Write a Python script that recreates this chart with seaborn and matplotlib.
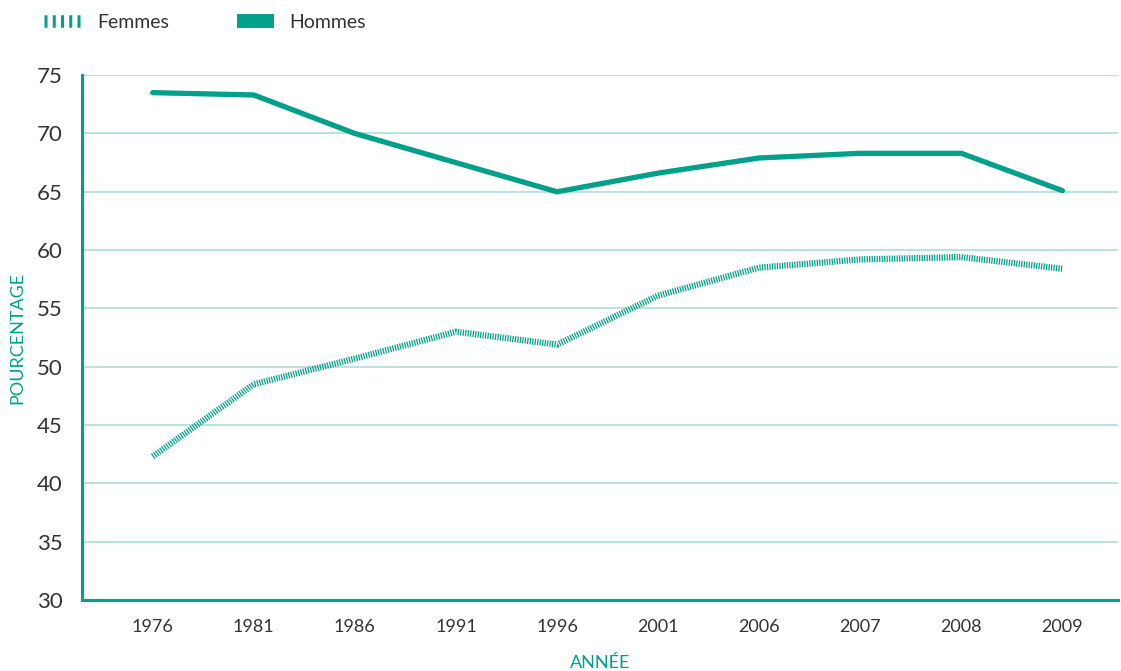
import pandas as pd
import matplotlib
matplotlib.use("Agg")
import matplotlib.pyplot as plt
import seaborn as sns
from matplotlib.lines import Line2D

# Data
years = ["1976", "1981", "1986", "1991", "1996", "2001", "2006", "2007", "2008", "2009"]
hommes = [73.5, 73.3, 70.0, 67.5, 65.0, 66.6, 67.9, 68.3, 68.3, 65.1]
femmes = [42.3, 48.5, 50.7, 53.0, 51.9, 56.1, 58.5, 59.2, 59.4, 58.4]
y_ticks = [30, 35, 40, 45, 50, 55, 60, 65, 70, 75]

teal = "#00A08A"
grid_col = "#B4E0DA"
text_col = "#333333"

df = pd.DataFrame({"Année": years, "Hommes": hommes, "Femmes": femmes})

sns.set_style("white")
plt.rcParams["font.family"] = ["Lato", "DejaVu Sans"]

fig = plt.figure(figsize=(11.21, 6.71), dpi=100)
ax = fig.add_axes([0.0731, 0.1058, 0.9242, 0.7822])

# Gridlines
for t in y_ticks[1:]:
    ax.axhline(t, color=grid_col, lw=1.3, zorder=0)

sns.lineplot(
    data=df, x="Année", y="Hommes", ax=ax,
    color=teal, lw=3.8, solid_capstyle="round", sort=False
)
sns.lineplot(
    data=df, x="Année", y="Femmes", ax=ax,
    color=teal, lw=4.5, sort=False,
    linestyle=(0, (0.2, 0.2)), dash_capstyle="butt"
)

ax.set_ylim(30, 75)
ax.set_xlim(-0.7, 9.55)
ax.set_yticks(y_ticks)

for s in ["top", "right"]:
    ax.spines[s].set_visible(False)
for s in ["left", "bottom"]:
    ax.spines[s].set_color(teal)
    ax.spines[s].set_linewidth(2.2)

ax.tick_params(axis="y", labelsize=16, colors=text_col, length=0, pad=14)
ax.tick_params(axis="x", labelsize=13, colors=text_col, length=0, pad=14)

ax.set_ylabel("POURCENTAGE", color=teal, fontsize=13, labelpad=8)
ax.set_xlabel("ANNÉE", color=teal, fontsize=13, labelpad=14)

# Legend
handles = [
    Line2D([], [], color=teal, lw=9, linestyle=(0, (0.24, 0.42)), dash_capstyle="butt"),
    Line2D([], [], color=teal, lw=10, solid_capstyle="butt"),
]
fig.legend(
    handles, ["Femmes", "Hommes"],
    loc="upper left", bbox_to_anchor=(0.024, 1.005),
    ncol=2, frameon=False, fontsize=14, labelcolor=text_col,
    handlelength=1.9, handletextpad=0.8, columnspacing=3.5
)

plt.savefig("out.png", dpi=100)
